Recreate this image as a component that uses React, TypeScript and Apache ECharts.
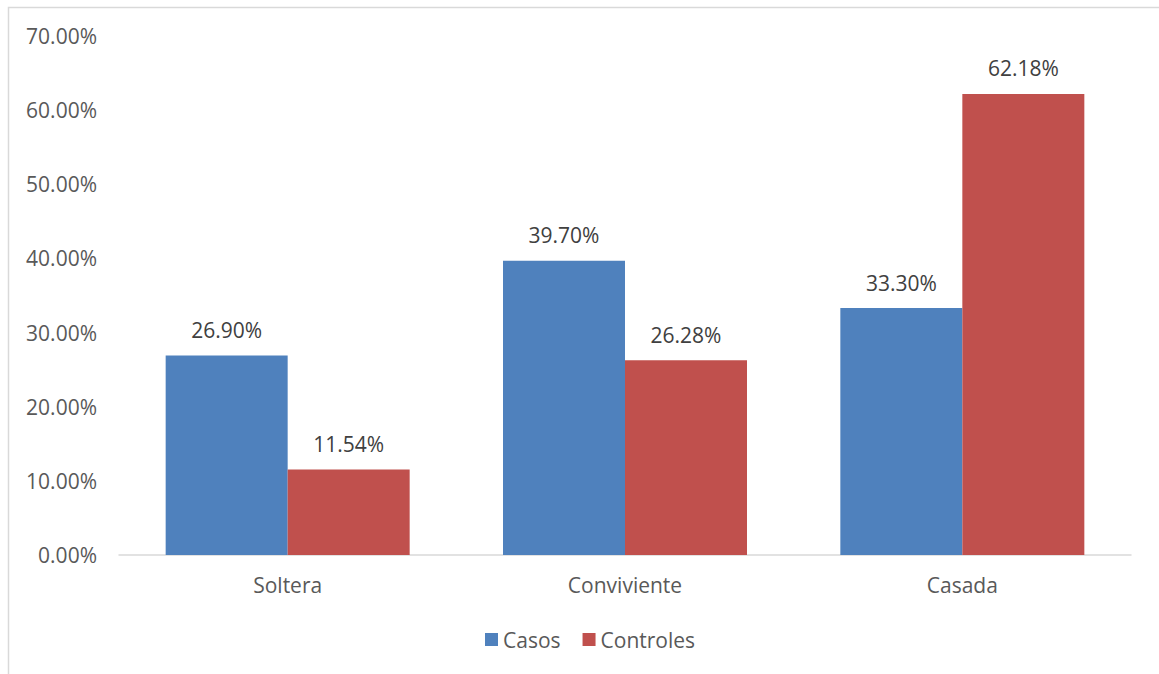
import React, { useEffect, useRef } from "react";
import * as echarts from "echarts";

const categories = ["Soltera", "Conviviente", "Casada"];
const casos = [26.9, 39.7, 33.3];
const controles = [11.54, 26.28, 62.18];
const seriesNames = ["Casos", "Controles"];

const FONT = "Open Sans";
const TXT = "#595959";
const FS = 21;

export default function App() {
  const ref = useRef<HTMLDivElement>(null);
  useEffect(() => {
    const chart = echarts.init(ref.current!, undefined, { renderer: "svg" });
    const label = {
      show: true,
      position: "top" as const,
      distance: 15,
      color: "#404040",
      fontFamily: FONT,
      fontSize: FS,
      formatter: (p: any) => p.value.toFixed(2) + "%",
    };
    chart.setOption({
      animation: false,
      backgroundColor: "#ffffff",
      graphic: [
        {
          type: "rect",
          shape: { x: 8.5, y: 7.5, width: 1200, height: 700 },
          style: { fill: "none", stroke: "#D9D9D9", lineWidth: 1.5 },
          silent: true,
        },
      ],
      legend: {
        data: seriesNames,
        left: 480,
        top: 624,
        itemWidth: 13,
        itemHeight: 13,
        itemGap: 22,
        icon: "rect",
        textStyle: { color: TXT, fontFamily: FONT, fontSize: FS, padding: [0, 0, 0, 0] },
      },
      grid: { left: 119, right: 28, top: 36, bottom: 119, containLabel: false },
      xAxis: {
        type: "category",
        data: categories,
        axisLine: { lineStyle: { color: "#D9D9D9", width: 1.5 } },
        axisTick: { show: false },
        axisLabel: { color: TXT, fontFamily: FONT, fontSize: FS, margin: 19 },
      },
      yAxis: {
        type: "value",
        min: 0,
        max: 70,
        interval: 10,
        axisLine: { show: false },
        axisTick: { show: false },
        splitLine: { show: false },
        axisLabel: {
          color: TXT,
          fontFamily: FONT,
          fontSize: FS,
          margin: 22,
          formatter: (v: number) => v.toFixed(2) + "%",
        },
      },
      series: [
        {
          name: seriesNames[0],
          type: "bar",
          data: casos,
          barWidth: 122,
          barGap: "0%",
          itemStyle: { color: "#4F81BD" },
          label,
        },
        {
          name: seriesNames[1],
          type: "bar",
          data: controles,
          barWidth: 122,
          barGap: "0%",
          itemStyle: { color: "#C0504D" },
          label,
        },
      ],
    });
    return () => chart.dispose();
  }, []);
  return <div ref={ref} style={{ width: 1159, height: 674, position: "absolute", left: 0, top: 0 }} />;
}
